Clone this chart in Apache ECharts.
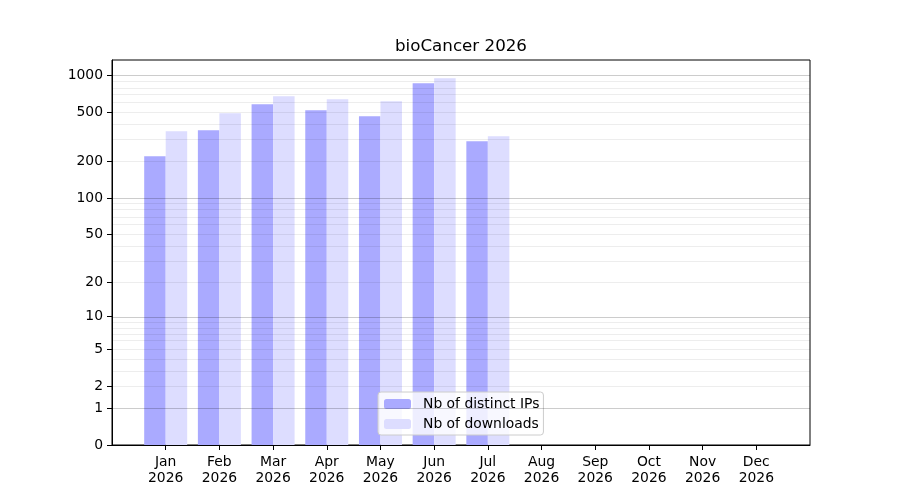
<!DOCTYPE html>
<html>
<head>
<meta charset="utf-8">
<script src="https://cdn.jsdelivr.net/npm/echarts@6/dist/echarts.min.js"></script>
<style>html,body{margin:0;padding:0;background:#fff}#c{width:900px;height:500px}</style>
</head>
<body>
<div id="c"></div>
<script>
const months = ['Jan','Feb','Mar','Apr','May','Jun','Jul','Aug','Sep','Oct','Nov','Dec'];
const year = '2026';
const distinctIPs = [220, 358, 582, 520, 465, 862, 291];
const downloads = [351, 492, 676, 639, 617, 947, 320];
const yTicks = [0, 1, 2, 5, 10, 20, 50, 100, 200, 500, 1000];
const majorGrid = [1, 10, 100, 1000];
const minorGrid = [2,3,4,5,6,7,8,9,20,30,40,50,60,70,80,90,200,300,400,500,600,700,800,900];

const tf = v => Math.log10(1 + v);
const maxT = 1.05 * tf(Math.max(...distinctIPs, ...downloads));
const FONT = 'DejaVu Sans';

const chart = echarts.init(document.getElementById('c'), null, {renderer: 'canvas'});
chart.setOption({
  animation: false,
  backgroundColor: '#fff',
  title: {
    text: 'bioCancer ' + year,
    left: 461, top: 38, textAlign: 'center', padding: 0,
    textStyle: {fontFamily: FONT, fontSize: 16.7, fontWeight: 'normal', color: '#000'}
  },
  grid: {left: 112, right: 90, top: 60, bottom: 55, show: true, borderColor: '#000', borderWidth: 1, backgroundColor: 'transparent'},
  legend: {
    orient: 'vertical', left: 378, top: 392,
    backgroundColor: 'rgba(255,255,255,0.8)', borderColor: '#cccccc', borderWidth: 1, borderRadius: 3,
    padding: [5, 4, 4, 6], itemWidth: 27, itemHeight: 10, itemGap: 6,
    textStyle: {fontFamily: FONT, fontSize: 13.9, color: '#000', lineHeight: 14, padding: [0, 0, 0, 7]},
    data: ['Nb of distinct IPs', 'Nb of downloads']
  },
  xAxis: {
    type: 'value', min: -1, max: 12,
    splitLine: {show: false},
    axisLine: {show: true, onZero: false, lineStyle: {color: '#000', width: 1}},
    axisTick: {show: true, length: 5, lineStyle: {color: '#000'}, customValues: months.map((m, i) => i)},
    axisLabel: {
      customValues: months.map((m, i) => i),
      formatter: v => months[Math.round(v)] + '\n' + year,
      fontFamily: FONT, fontSize: 13.9, color: '#000', lineHeight: 16, margin: 9
    }
  },
  yAxis: {
    type: 'value', min: 0, max: maxT,
    splitLine: {show: false},
    axisLine: {show: true, onZero: false, lineStyle: {color: '#000', width: 1}},
    axisTick: {show: true, length: 5, lineStyle: {color: '#000'}, customValues: yTicks.map(tf)},
    axisLabel: {
      customValues: yTicks.map(tf),
      formatter: v => String(yTicks.reduce((a, b) => Math.abs(tf(b) - v) < Math.abs(tf(a) - v) ? b : a)),
      fontFamily: FONT, fontSize: 13.9, color: '#000', margin: 9, padding: [2, 0, 0, 0]
    }
  },
  series: [
    {
      name: 'Nb of distinct IPs', type: 'bar', barWidth: 21.5, barGap: '0%',
      itemStyle: {color: '#aaaaff'},
      data: distinctIPs.map((v, i) => [i, tf(v)])
    },
    {
      name: 'Nb of downloads', type: 'bar', barWidth: 21.5, barGap: '0%',
      itemStyle: {color: '#ddddff'},
      data: downloads.map((v, i) => [i, tf(v)])
    },
    {
      name: 'grid', type: 'line', data: [], z: 5, silent: true,
      markLine: {
        silent: true, symbol: 'none', label: {show: false}, animation: false,
        data: [
          ...minorGrid.map(v => ({yAxis: tf(v), lineStyle: {color: 'rgba(0,0,0,0.07)', width: 1, type: 'solid'}})),
          ...majorGrid.map(v => ({yAxis: tf(v), lineStyle: {color: 'rgba(0,0,0,0.2)', width: 1, type: 'solid'}}))
        ]
      }
    }
  ]
});
</script>
</body>
</html>
